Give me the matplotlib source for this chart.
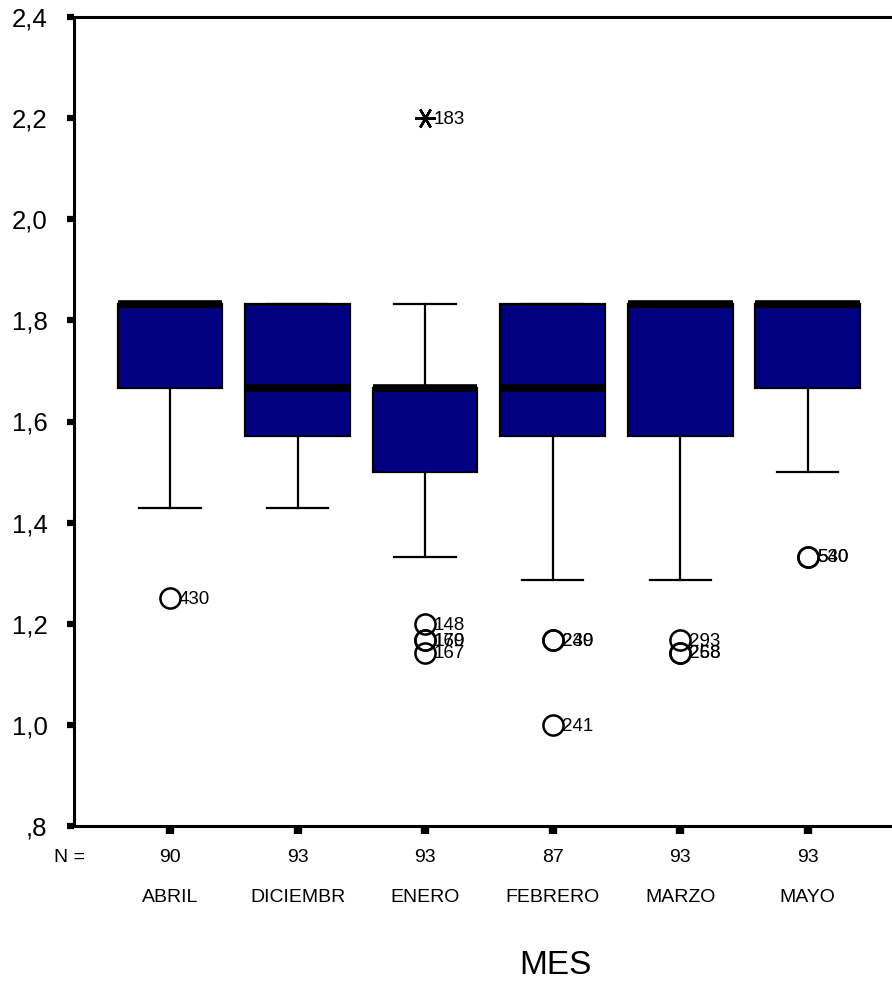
import matplotlib
matplotlib.use('Agg')
import matplotlib.pyplot as plt
import matplotlib.transforms as mtransforms

meses = ['ABRIL', 'DICIEMBR', 'ENERO', 'FEBRERO', 'MARZO', 'MAYO']
n_casos = [90, 93, 93, 87, 93, 93]
q1 = [1.667, 1.571, 1.500, 1.571, 1.571, 1.667]
mediana = [1.833, 1.667, 1.667, 1.667, 1.833, 1.833]
q3 = [1.833, 1.833, 1.667, 1.833, 1.833, 1.833]
bigote_inf = [1.429, 1.429, 1.333, 1.286, 1.286, 1.500]
bigote_sup = [1.833, 1.833, 1.833, 1.833, 1.833, 1.833]
atipicos = [[1.25], [], [1.2, 1.167, 1.167, 1.143], [1.167, 1.167, 1.0],
            [1.167, 1.143, 1.143], [1.333, 1.333]]
atipicos_id = [['430'], [], ['148', '170', '169', '167'], ['239', '240', '241'],
               ['293', '258', '268'], ['530', '540']]
extremos_mes = [2]
extremos = [2.2]
extremos_id = ['183']

yticks = [0.8, 1.0, 1.2, 1.4, 1.6, 1.8, 2.0, 2.2, 2.4]
ytick_labels = [',8', '1,0', '1,2', '1,4', '1,6', '1,8', '2,0', '2,2', '2,4']

plt.rcParams['font.family'] = ['Liberation Sans', 'DejaVu Sans']

fig = plt.figure(figsize=(8.92, 10), dpi=100)
ax = fig.add_axes([74 / 892, 1 - 826 / 1000, 1 - 74 / 892, (826 - 17) / 1000])

pos = list(range(1, len(meses) + 1))
stats = []
for i in range(len(meses)):
    stats.append({'med': mediana[i], 'q1': q1[i], 'q3': q3[i],
                  'whislo': bigote_inf[i], 'whishi': bigote_sup[i], 'fliers': []})

ax.bxp(stats, positions=pos, widths=0.82, capwidths=0.48, patch_artist=True,
       showfliers=False,
       boxprops=dict(facecolor='#000080', edgecolor='black', linewidth=1.6),
       medianprops=dict(color='black', linewidth=5.5, solid_capstyle='butt'),
       whiskerprops=dict(color='black', linewidth=1.6),
       capprops=dict(color='black', linewidth=1.6))

# atipicos (circulos) y extremos (asteriscos) con su numero de caso
for i in range(len(meses)):
    for v, lab in zip(atipicos[i], atipicos_id[i]):
        ax.plot(pos[i], v, 'o', ms=14.5, mfc='none', mec='black', mew=1.8, zorder=5)
        ax.annotate(lab, (pos[i], v), xytext=(6.5, -1), textcoords='offset points',
                    va='center', ha='left', fontsize=13.5)
for m, v, lab in zip(extremos_mes, extremos, extremos_id):
    ax.plot(pos[m], v, marker=(6, 2, 90), ms=15, mec='black', mew=1.8, zorder=5)
    ax.annotate(lab, (pos[m], v), xytext=(6.5, -1), textcoords='offset points',
                va='center', ha='left', fontsize=13.5)

ax.set_xlim(0.248, 6.66)
ax.set_ylim(0.8, 2.4)
ax.set_yticks(yticks)
ax.set_yticklabels(ytick_labels, fontsize=18.5)
ax.set_xticks(pos)
ax.set_xticklabels([])
ax.tick_params(axis='y', direction='out', length=5, width=4.5, pad=14)
ax.tick_params(axis='x', direction='out', length=5.5, width=6)
ax.spines['right'].set_visible(False)
for s in ['left', 'top', 'bottom']:
    ax.spines[s].set_linewidth(2.2)

trans = mtransforms.blended_transform_factory(ax.transData, fig.transFigure)
for p, n, m in zip(pos, n_casos, meses):
    ax.text(p, 1 - 857 / 1000, str(n), transform=trans, ha='center', va='center', fontsize=14)
    ax.text(p, 1 - 897 / 1000, m, transform=trans, ha='center', va='center', fontsize=14)
fig.text(70 / 892, 1 - 857 / 1000, 'N =', ha='center', va='center', fontsize=14)
fig.text(555 / 892, 1 - 965 / 1000, 'MES', ha='center', va='center', fontsize=24)

plt.savefig('out.png', dpi=100)
